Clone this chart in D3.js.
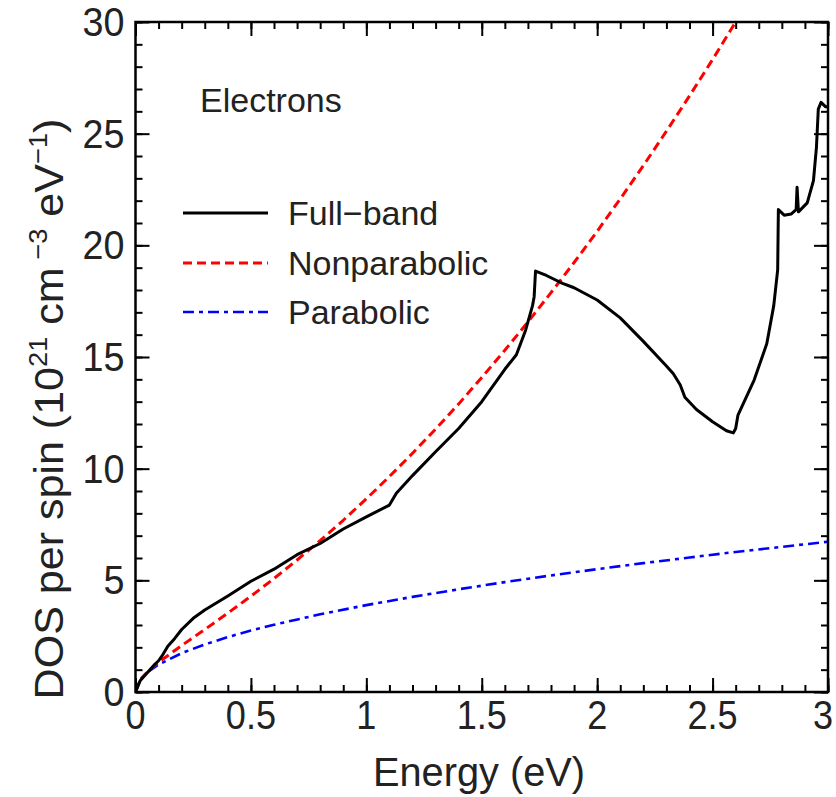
<!DOCTYPE html>
<html><head><meta charset="utf-8">
<script src="https://cdn.jsdelivr.net/npm/d3@7"></script>
<style>html,body{margin:0;padding:0;background:#fff;}svg{display:block;font-family:"Liberation Sans",Arial,sans-serif;}</style>
</head><body><svg id="c" width="836" height="797"></svg>
<script>
// ---- data ----
const fullBandE = [0,0.02,0.05,0.08,0.1,0.12,0.14,0.17,0.2,0.25,0.3,0.4,0.5,0.6,0.7,0.8,0.9,1.0,1.1,1.13,1.2,1.3,1.4,1.5,1.6,1.65,1.69,1.72,1.727,1.733,1.78,1.85,1.9,2.0,2.1,2.2,2.3,2.33,2.36,2.38,2.43,2.5,2.56,2.59,2.6,2.61,2.68,2.735,2.765,2.782,2.785,2.81,2.84,2.862,2.866,2.872,2.91,2.937,2.95,2.958,2.97,2.99,3.0];
const fullBandDOS = [0,0.5,0.85,1.2,1.4,1.7,2.05,2.4,2.8,3.3,3.67,4.3,4.96,5.5,6.15,6.65,7.3,7.84,8.37,8.9,9.69,10.76,11.8,13.0,14.45,15.1,16.2,17.3,17.7,18.85,18.65,18.3,18.1,17.55,16.75,15.7,14.6,14.25,13.75,13.2,12.65,12.1,11.7,11.6,11.8,12.4,13.97,15.6,17.3,18.9,21.6,21.35,21.4,21.6,22.6,21.5,21.9,22.9,24.4,26.1,26.4,26.2,26.2];
const nonparE = [0,0.02,0.05,0.1,0.2,0.3,0.4,0.5,0.6,0.7,0.8,0.9,1.0,1.1,1.2,1.3,1.4,1.5,1.6,1.7,1.8,1.9,2.0,2.1,2.2,2.3,2.4,2.5,2.6];
const nonparDOS = [0,0.55,0.89,1.33,2.08,2.80,3.53,4.29,5.08,5.91,6.78,7.69,8.65,9.65,10.69,11.77,12.90,14.08,15.30,16.57,17.88,19.23,20.63,22.08,23.57,25.11,26.69,28.32,30.0];
const parabE = [0,0.02,0.05,0.1,0.2,0.3,0.4,0.5,0.6,0.8,1.0,1.2,1.4,1.6,1.8,2.0,2.2,2.4,2.6,2.8,3.0];
const parabDOS = [0,0.55,0.87,1.23,1.74,2.13,2.46,2.75,3.01,3.48,3.89,4.26,4.60,4.92,5.22,5.50,5.77,6.02,6.27,6.50,6.73];
const xTickLabels = ["0","0.5","1","1.5","2","2.5","3"];
const yTickLabels = ["0","5","10","15","20","25","30"];
const seriesNames = ["Full\u2212band","Nonparabolic","Parabolic"];

// ---- layout ----
const L=135.5, R=828, T=22, B=692;
const svg=d3.select("#c");
const x=d3.scaleLinear().domain([0,3]).range([L,R]);
const y=d3.scaleLinear().domain([0,30]).range([B,T]);

const styles=[
  {color:"#000000",dash:null,w:3},
  {color:"#ff0000",dash:"9,5",w:3},
  {color:"#0000ff",dash:"11,5,4,5",w:2.6}
];

svg.append("defs").append("clipPath").attr("id","clip").append("rect")
  .attr("x",L).attr("y",T).attr("width",R-L).attr("height",B-T);

const line=d3.line().x(d=>x(d[0])).y(d=>y(d[1]));
const series=[
  d3.zip(fullBandE,fullBandDOS),
  d3.zip(nonparE,nonparDOS),
  d3.zip(parabE,parabDOS)
];
const g=svg.append("g").attr("clip-path","url(#clip)");
[2,1,0].forEach(i=>{
  g.append("path").datum(series[i]).attr("d",line).attr("fill","none")
   .attr("stroke",styles[i].color).attr("stroke-width",styles[i].w)
   .attr("stroke-dasharray",styles[i].dash).attr("stroke-linejoin","round");
});

// ---- axes (inward ticks on all four sides) ----
const minorX=d3.range(0,31).map(i=>i/10), majorX=d3.range(0,7).map(i=>i/2);
const minorY=d3.range(0,31), majorY=d3.range(0,31,5);
function ax(gen,scale,vals,size,tr){
  const a=svg.append("g").attr("transform",tr)
   .call(gen(scale).tickValues(vals).tickSize(size).tickFormat(""));
  a.select(".domain").remove();
  a.selectAll("line").attr("stroke","#000").attr("stroke-width",2);
}
ax(d3.axisBottom,x,minorX,-7,`translate(0,${B})`);
ax(d3.axisBottom,x,majorX,-14,`translate(0,${B})`);
ax(d3.axisTop,x,minorX,-7,`translate(0,${T})`);
ax(d3.axisTop,x,majorX,-14,`translate(0,${T})`);
ax(d3.axisLeft,y,minorY,-7,`translate(${L},0)`);
ax(d3.axisLeft,y,majorY,-14,`translate(${L},0)`);
ax(d3.axisRight,y,minorY,-7,`translate(${R},0)`);
ax(d3.axisRight,y,majorY,-14,`translate(${R},0)`);
svg.append("rect").attr("x",L).attr("y",T).attr("width",R-L).attr("height",B-T)
  .attr("fill","none").attr("stroke","#000").attr("stroke-width",2.5);

// tick labels
const fs=41;
svg.append("g").selectAll("text").data(majorX).join("text")
  .attr("transform",d=>`translate(${Math.min(x(d),823)},${B+37}) scale(0.88,1)`)
  .attr("text-anchor","middle").attr("font-size",fs).attr("fill","#222")
  .text((d,i)=>xTickLabels[i]);
svg.append("g").selectAll("text").data(majorY).join("text")
  .attr("transform",d=>`translate(${L-11},${y(d)+14}) scale(0.92,1)`)
  .attr("text-anchor","end").attr("font-size",fs).attr("fill","#222")
  .text((d,i)=>yTickLabels[i]);

// axis titles
svg.append("text").attr("transform",`translate(479,786) scale(0.97,1)`)
  .attr("text-anchor","middle").attr("font-size",41).attr("fill","#222").text("Energy (eV)");
const yl=svg.append("text").attr("transform",`translate(63,409) rotate(-90) scale(1.05,1)`)
  .attr("text-anchor","middle").attr("font-size",41).attr("fill","#222");
yl.append("tspan").text("DOS per spin (10");
yl.append("tspan").attr("dy",-16).attr("font-size",26).text("21");
yl.append("tspan").attr("dy",16).text(" cm");
yl.append("tspan").attr("dy",-16).attr("font-size",26).text(" \u22123");
yl.append("tspan").attr("dy",16).text(" eV");
yl.append("tspan").attr("dy",-16).attr("font-size",26).text("\u22121");
yl.append("tspan").attr("dy",16).text(")");

// annotation and legend
svg.append("text").attr("x",200).attr("y",112).attr("font-size",34).attr("fill","#222").text("Electrons");
const legY=[213,263,312];
const lg=svg.append("g");
seriesNames.forEach((n,i)=>{
  lg.append("line").attr("x1",183).attr("x2",268).attr("y1",legY[i]).attr("y2",legY[i])
    .attr("stroke",styles[i].color).attr("stroke-width",styles[i].w).attr("stroke-dasharray",styles[i].dash);
  lg.append("text").attr("x",288).attr("y",legY[i]+12).attr("font-size",34).attr("fill","#222").text(n);
});
</script></body></html>
